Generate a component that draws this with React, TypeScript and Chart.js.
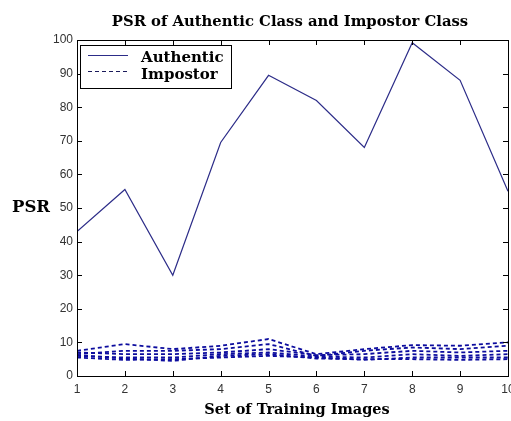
import React, { useEffect, useRef } from "react";
import { Chart, registerables } from "chart.js";

Chart.register(...registerables);

const xValues = [1, 2, 3, 4, 5, 6, 7, 8, 9, 10];
const authentic = [43, 55.5, 30, 69.5, 89.5, 82, 68, 99.2, 88, 55];
const impostor1 = [7.5, 9.5, 8, 9, 11, 6.5, 8, 9.2, 9, 10];
const impostor2 = [6.5, 7.5, 7.5, 8, 9.5, 6, 7.5, 8.5, 8, 9];
const impostor3 = [7, 6.5, 6.5, 7, 8, 6.2, 6.5, 7.5, 7, 7.5];
const impostor4 = [6, 5.5, 5.5, 6.5, 7, 5.8, 5.5, 6.5, 6, 6.5];
const impostor5 = [5.5, 4.8, 5, 5.5, 6, 5.5, 4.8, 5.5, 5.5, 5.5];
const impostor6 = [6.2, 5.2, 4.5, 6, 6.5, 5.2, 5, 5, 4.8, 5];
const impostorSeries = [impostor1, impostor2, impostor3, impostor4, impostor5, impostor6];
const yTicks = [0, 10, 20, 30, 40, 50, 60, 70, 80, 90, 100];

const titleText = "PSR of Authentic Class and Impostor Class";
const xTitle = "Set of Training Images";
const yTitle = "PSR";
const legendLabels = ["Authentic", "Impostor"];

const AUTH_COLOR = "#2c2c88";
const IMP_COLOR = "#0c0c9e";
const SERIF = "'DejaVu Serif', serif";

const toPoints = (vals: number[]) => vals.map((v, i) => ({ x: xValues[i], y: v }));

const decorPlugin = {
  id: "decor",
  afterDraw(chart: any) {
    const { ctx, chartArea } = chart;
    const { left, right, top, bottom } = chartArea;
    const xs = chart.scales.x;
    const ys = chart.scales.y;
    ctx.save();
    // box
    ctx.strokeStyle = "#000";
    ctx.lineWidth = 1;
    ctx.setLineDash([]);
    ctx.strokeRect(Math.round(left) + 0.5, Math.round(top) + 0.5, Math.round(right - left), Math.round(bottom - top));
    // inward ticks
    ctx.beginPath();
    yTicks.forEach((t) => {
      const y = Math.round(ys.getPixelForValue(t)) + 0.5;
      ctx.moveTo(left, y);
      ctx.lineTo(left + 5, y);
      ctx.moveTo(right, y);
      ctx.lineTo(right - 5, y);
    });
    xValues.forEach((t) => {
      const x = Math.round(xs.getPixelForValue(t)) + 0.5;
      ctx.moveTo(x, bottom);
      ctx.lineTo(x, bottom - 5);
      ctx.moveTo(x, top);
      ctx.lineTo(x, top + 5);
    });
    ctx.stroke();

    // titles
    ctx.fillStyle = "#000";
    ctx.textBaseline = "alphabetic";
    ctx.textAlign = "center";
    ctx.font = `bold 14.8px ${SERIF}`;
    ctx.fillText(titleText, 290, 26);
    ctx.font = `bold 14.5px ${SERIF}`;
    ctx.fillText(xTitle, 297, 414);
    ctx.textAlign = "left";
    ctx.font = `bold 16.5px ${SERIF}`;
    ctx.fillText(yTitle, 12, 212);

    // legend
    const lx = 80.5, ly = 45.5, lw = 151, lh = 43;
    ctx.fillStyle = "#fff";
    ctx.fillRect(lx, ly, lw, lh);
    ctx.strokeStyle = "#000";
    ctx.strokeRect(lx, ly, lw, lh);
    ctx.lineWidth = 1.2;
    ctx.strokeStyle = AUTH_COLOR;
    ctx.beginPath();
    ctx.moveTo(88, 55.5);
    ctx.lineTo(128, 55.5);
    ctx.stroke();
    ctx.strokeStyle = "#1a1a5a";
    ctx.lineWidth = 1.2;
    ctx.setLineDash([4, 3]);
    ctx.beginPath();
    ctx.moveTo(88, 71.5);
    ctx.lineTo(130, 71.5);
    ctx.stroke();
    ctx.setLineDash([]);
    ctx.fillStyle = "#000";
    ctx.font = `bold 15px ${SERIF}`;
    ctx.fillText(legendLabels[0], 141, 62);
    ctx.fillText(legendLabels[1], 141, 78.5);
    ctx.restore();
  },
};

export default function App() {
  const canvasRef = useRef<HTMLCanvasElement | null>(null);
  useEffect(() => {
    if (!canvasRef.current) return;
    const datasets: any[] = [
      {
        label: legendLabels[0],
        data: toPoints(authentic),
        borderColor: AUTH_COLOR,
        borderWidth: 1.2,
        pointRadius: 0,
        tension: 0,
      },
      ...impostorSeries.map((s, i) => ({
        label: i === 0 ? legendLabels[1] : `${legendLabels[1]} ${i + 1}`,
        data: toPoints(s),
        borderColor: IMP_COLOR,
        borderWidth: 1.8,
        borderDash: [4, 3],
        pointRadius: 0,
        tension: 0,
      })),
    ];
    const chart = new Chart(canvasRef.current, {
      type: "line",
      data: { datasets },
      options: {
        animation: false,
        responsive: false,
        devicePixelRatio: 1,
        layout: { padding: { top: 40, left: 0, right: 17, bottom: 0 } },
        plugins: { legend: { display: false }, title: { display: false }, tooltip: { enabled: false } },
        scales: {
          x: {
            type: "linear",
            min: 1,
            max: 10,
            grid: { display: false, drawTicks: false },
            border: { display: false },
            ticks: {
              stepSize: 1,
              padding: 6,
              color: "#333",
              font: { family: "'Liberation Sans', Arial, sans-serif", size: 12 },
            },
            afterFit: (scale: any) => {
              scale.height = 45;
            },
          },
          y: {
            min: 0,
            max: 100,
            grid: { display: false, drawTicks: false },
            border: { display: false },
            ticks: {
              stepSize: 10,
              padding: 4,
              color: "#333",
              font: { family: "'Liberation Sans', Arial, sans-serif", size: 12 },
            },
            afterFit: (scale: any) => {
              scale.width = 77;
            },
          },
        },
      },
      plugins: [decorPlugin],
    });
    return () => chart.destroy();
  }, []);
  return (
    <div style={{ position: "fixed", left: 0, top: 0, width: 511, height: 421, overflow: "hidden", background: "#fff" }}>
      <canvas ref={canvasRef} width={525} height={421} style={{ display: "block" }} />
    </div>
  );
}
